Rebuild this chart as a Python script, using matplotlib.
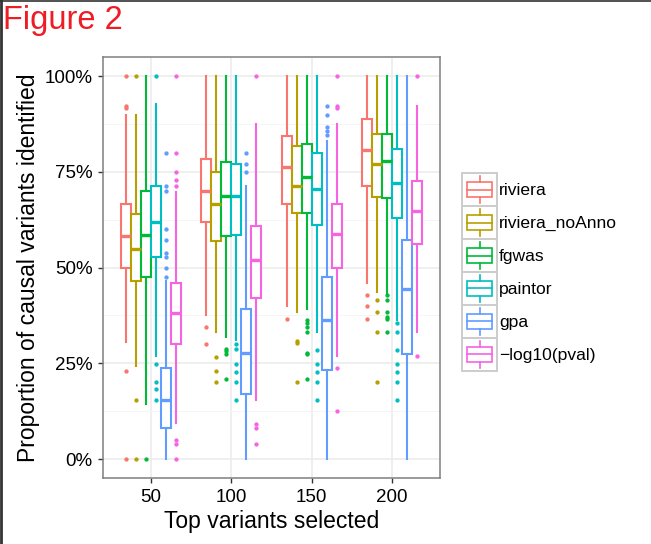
import numpy as np
import matplotlib
matplotlib.use("Agg")
import matplotlib.pyplot as plt
from matplotlib.patches import Rectangle
from matplotlib.lines import Line2D
from matplotlib.legend_handler import HandlerBase
from matplotlib.ticker import PercentFormatter, MultipleLocator

plt.rcParams["font.family"] = ["Liberation Sans", "DejaVu Sans"]

# ---- data (percent) ----
groups = ["50", "100", "150", "200"]
methods = ["riviera", "riviera_noAnno", "fgwas", "paintor", "gpa", "\u2212log10(pval)"]
colors = ["#F8766D", "#B79F00", "#00BA38", "#00BFC4", "#619CFF", "#F564E3"]

riviera_q1 = [50.0, 61.8, 66.6, 71.4]
riviera_med = [58.3, 70.1, 76.4, 80.8]
riviera_q3 = [66.6, 78.5, 84.5, 88.8]
riviera_lo = [30.5, 37.5, 40.0, 45.9]
riviera_hi = [89.8, 100, 100, 100]
riviera_out = [[100, 92.2, 91.6, 23.1, 0], [34.6, 30.0], [36.7], [42.8, 40.0, 36.7]]

noanno_q1 = [46.6, 57.0, 64.3, 68.4]
noanno_med = [54.9, 66.7, 71.4, 77.1]
noanno_q3 = [64.0, 75.0, 81.7, 85.0]
noanno_lo = [24.3, 33.3, 38.4, 43.7]
noanno_hi = [89.8, 100, 100, 100]
noanno_out = [[100, 15.4, 0], [26.6, 23.0, 20.0], [30.8, 30.3, 20.0], [41.6, 38.4, 33.3, 20.0]]

fgwas_q1 = [47.5, 58.2, 64.3, 68.3]
fgwas_med = [58.5, 68.8, 73.6, 77.8]
fgwas_q3 = [70.0, 77.7, 82.3, 85.0]
fgwas_lo = [14.3, 31.8, 39.1, 43.3]
fgwas_hi = [100, 100, 100, 100]
fgwas_out = [[0], [28.7, 28.1, 27.4, 21.0],
             [36.3, 35.5, 34.6, 33.3, 27.8, 27.4, 21.0],
             [42.8, 41.6, 38.4, 37.0, 36.5, 33.3]]

paintor_q1 = [52.9, 58.5, 61.1, 63.1]
paintor_med = [61.9, 68.8, 70.5, 72.2]
paintor_q3 = [71.4, 77.0, 80.0, 81.0]
paintor_lo = [26.9, 31.1, 33.3, 36.3]
paintor_hi = [92.7, 100, 100, 100]
paintor_out = [[100, 24.9, 20.0, 18.2, 15.4],
               [30.0, 28.7, 24.9, 22.7, 20.0, 15.4],
               [28.5, 24.9, 22.7, 20.0, 15.4],
               [35.6, 33.3, 28.5, 24.9, 22.7, 20.0, 15.4]]

gpa_q1 = [8.2, 17.1, 23.3, 27.5]
gpa_med = [15.4, 27.8, 36.3, 44.5]
gpa_q3 = [23.7, 39.2, 47.6, 57.1]
gpa_lo = [0, 0, 0, 0]
gpa_hi = [46.6, 71.3, 83.1, 100]
gpa_out = [[80.0, 71.4, 70.0, 60.0, 57.1, 53.9, 52.9, 50.0, 47.5],
           [80.0, 77.0, 75.0], [92.3, 90.0, 86.7, 85.7, 84.6], []]

pval_q1 = [30.0, 42.1, 49.8, 56.2]
pval_med = [38.1, 52.0, 58.9, 64.8]
pval_q3 = [46.1, 61.0, 66.6, 72.7]
pval_lo = [9.4, 15.4, 26.9, 33.3]
pval_hi = [69.8, 87.4, 87.4, 92.2]
pval_out = [[100, 80.0, 75.0, 72.8, 71.4, 5.0, 3.9, 0], [100, 9.1, 8.2, 3.9],
            [100, 92.3, 91.6, 23.9, 12.6], [100, 26.9]]

series = [
    (riviera_q1, riviera_med, riviera_q3, riviera_lo, riviera_hi, riviera_out),
    (noanno_q1, noanno_med, noanno_q3, noanno_lo, noanno_hi, noanno_out),
    (fgwas_q1, fgwas_med, fgwas_q3, fgwas_lo, fgwas_hi, fgwas_out),
    (paintor_q1, paintor_med, paintor_q3, paintor_lo, paintor_hi, paintor_out),
    (gpa_q1, gpa_med, gpa_q3, gpa_lo, gpa_hi, gpa_out),
    (pval_q1, pval_med, pval_q3, pval_lo, pval_hi, pval_out),
]


class BoxKeyHandler(HandlerBase):
    """ggplot-like legend key: grey framed square with a small boxplot."""

    def create_artists(self, legend, orig_handle, xdescent, ydescent,
                       width, height, fontsize, trans):
        c = orig_handle.get_color()
        x0, y0 = -xdescent, -ydescent
        H = height
        bg = Rectangle((x0, y0), width, H, facecolor="white",
                       edgecolor="#CCCCCC", lw=1.4, transform=trans)
        cx = x0 + width / 2
        bw = width * 0.74
        box = Rectangle((cx - bw / 2, y0 + H * 0.28), bw, H * 0.44,
                        fill=False, edgecolor=c, lw=1.2, transform=trans)
        med = Line2D([cx - bw / 2, cx + bw / 2], [y0 + H / 2] * 2,
                     color=c, lw=1.2, transform=trans)
        w1 = Line2D([cx, cx], [y0 + H * 0.72, y0 + H * 0.9],
                    color=c, lw=1.2, transform=trans)
        w2 = Line2D([cx, cx], [y0 + H * 0.1, y0 + H * 0.28],
                    color=c, lw=1.2, transform=trans)
        return [bg, box, med, w1, w2]


fig = plt.figure(figsize=(6.51, 5.44), dpi=100)
ax = fig.add_axes([0.158, 0.121, 0.518, 0.774])

slot = 0.125
offsets = (np.arange(len(methods)) - (len(methods) - 1) / 2) * slot
xg = np.arange(1, len(groups) + 1)

for k, (q1, med, q3, lo, hi, out) in enumerate(series):
    stats = []
    for g in range(len(groups)):
        stats.append(dict(med=med[g] / 100, q1=q1[g] / 100, q3=q3[g] / 100,
                          whislo=lo[g] / 100, whishi=hi[g] / 100,
                          fliers=np.array(out[g]) / 100))
    c = colors[k]
    ax.bxp(stats, positions=xg + offsets[k], widths=slot, showcaps=False,
           patch_artist=True, manage_ticks=False,
           boxprops=dict(facecolor="white", edgecolor=c, lw=1.5),
           whiskerprops=dict(color=c, lw=1.5),
           medianprops=dict(color=c, lw=2.4, solid_capstyle="butt"),
           flierprops=dict(marker="o", markersize=2.1, markerfacecolor=c,
                           markeredgecolor=c, linestyle="none"))

ax.set_xlim(0.4, 4.6)
ax.set_ylim(-0.05, 1.05)
ax.set_xticks(xg)
ax.set_xticklabels(groups)
ax.yaxis.set_major_locator(MultipleLocator(0.25))
ax.yaxis.set_minor_locator(MultipleLocator(0.125))
ax.yaxis.set_major_formatter(PercentFormatter(1.0, decimals=0))

ax.set_axisbelow(True)
ax.grid(True, which="major", color="#EBEBEB", lw=1.1)
ax.grid(True, which="minor", axis="y", color="#F5F5F5", lw=0.7)
for s in ax.spines.values():
    s.set_color("#7F7F7F")
    s.set_linewidth(1.1)
ax.tick_params(which="major", length=3.5, width=1.0, color="#333333",
               labelsize=13.5, labelcolor="black", pad=4)
ax.tick_params(which="minor", length=0)

ax.set_xlabel("Top variants selected", fontsize=16.5, labelpad=3)
ax.set_ylabel("Proportion of causal variants identified", fontsize=16.5, labelpad=3)

handles = [Line2D([], [], color=c) for c in colors]
fig.legend(handles, methods, handler_map={Line2D: BoxKeyHandler()},
           loc="center left", bbox_to_anchor=(0.697, 0.5), frameon=False,
           fontsize=12.6, handlelength=1.95, handleheight=2.52,
           labelspacing=0.0, handletextpad=0.15, borderpad=0)

fig.text(0.005, 0.99, "Figure 2", color="#EE1C25", fontsize=23.5,
         ha="left", va="top")

# page border from the source document
fig.add_artist(Line2D([0, 1], [0.999, 0.999], transform=fig.transFigure,
                      color="#333333", lw=1.2))
fig.add_artist(Line2D([0.002, 0.002], [0, 1], transform=fig.transFigure,
                      color="#333333", lw=2.0))

fig.savefig("out.png", dpi=100)
